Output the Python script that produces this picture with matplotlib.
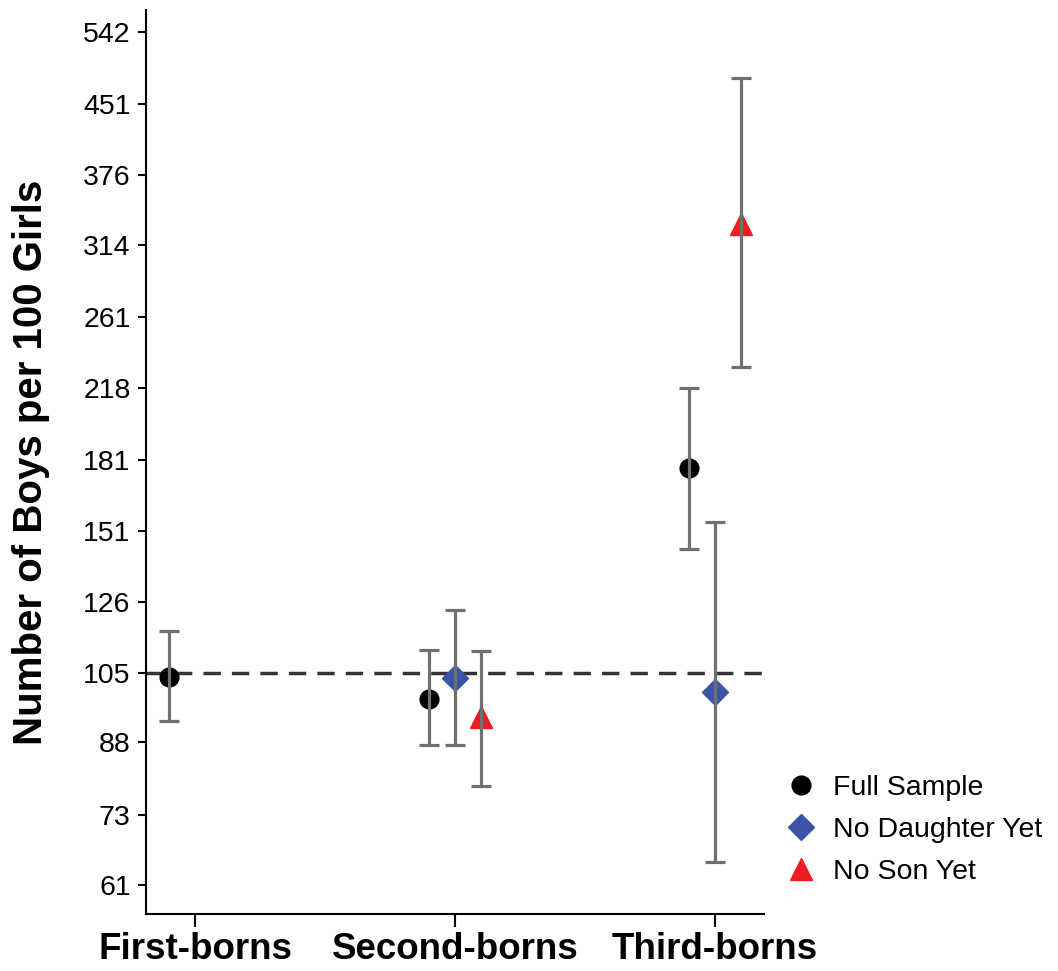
import matplotlib.pyplot as plt
import numpy as np

plt.rcParams['font.family'] = ['Liberation Sans', 'DejaVu Sans']

categories = ['First-borns', 'Second-borns', 'Third-borns']
y_ticks = [61, 73, 88, 105, 126, 151, 181, 218, 261, 314, 376, 451, 542]

# Full Sample
full_val = np.array([104.0, 98.3, 177.3])
full_lo = np.array([92.9, 87.2, 144.1])
full_hi = np.array([116.8, 111.2, 217.7])

# No Daughter Yet (second and third births only)
nodau_val = np.array([103.6, 99.9])
nodau_lo = np.array([87.2, 64.6])
nodau_hi = np.array([123.4, 154.4])

# No Son Yet (second and third births only)
noson_val = np.array([93.8, 331.5])
noson_lo = np.array([78.5, 229.9])
noson_hi = np.array([111.0, 481.7])

natural_ratio = 105

x = np.arange(1, len(categories) + 1)
off = 0.1
bar_color = '#707070'

fig = plt.figure(figsize=(10.58, 9.71), dpi=100)
ax = fig.add_axes([0.138, 0.0587, 0.584, 0.931])
ax.set_yscale('log')

ax.axhline(natural_ratio, color='#333333', lw=2.5, ls=(0, (5, 3.2)), zorder=1)

h1, = ax.plot(x - off, full_val, 'o', color='black', ms=13.5, ls='none', zorder=3, label='Full Sample')
h2, = ax.plot(x[1:], nodau_val, 'D', color='#3B54A5', ms=13, ls='none', zorder=3, label='No Daughter Yet')
h3, = ax.plot(x[1:] + off, noson_val, '^', color='#ED1C24', ms=16, ls='none', zorder=3, label='No Son Yet')

ax.errorbar(x - off, full_val, yerr=[full_val - full_lo, full_hi - full_val], fmt='none',
            ecolor=bar_color, elinewidth=2.3, capsize=7, capthick=2.3, zorder=4)
ax.errorbar(x[1:], nodau_val, yerr=[nodau_val - nodau_lo, nodau_hi - nodau_val], fmt='none',
            ecolor=bar_color, elinewidth=2.3, capsize=7, capthick=2.3, zorder=4)
ax.errorbar(x[1:] + off, noson_val, yerr=[noson_val - noson_lo, noson_hi - noson_val], fmt='none',
            ecolor=bar_color, elinewidth=2.3, capsize=7, capthick=2.3, zorder=4)

ax.set_xlim(0.8115, 3.188)
ax.set_ylim(56.6, 573.5)
ax.set_xticks(x)
ax.set_xticklabels(categories, fontsize=26.5, fontweight='bold')
ax.set_yticks(y_ticks)
ax.set_yticklabels([str(t) for t in y_ticks], fontsize=20.5)
ax.yaxis.set_minor_locator(plt.NullLocator())
ax.tick_params(axis='y', length=6, width=1.5, pad=5)
ax.tick_params(axis='x', length=9, width=1.5, pad=4)
ax.spines['top'].set_visible(False)
ax.spines['right'].set_visible(False)
ax.spines['left'].set_linewidth(1.5)
ax.spines['bottom'].set_linewidth(1.5)

ax.set_ylabel('Number of Boys per 100 Girls', fontsize=29, fontweight='bold', labelpad=24)

fig.legend(handles=[h1, h2, h3], loc='upper left', bbox_to_anchor=(0.744, 0.2018),
           frameon=False, fontsize=20.5, handlelength=1.0, handletextpad=0.6,
           labelspacing=0.56, borderpad=0, borderaxespad=0)

fig.savefig('out.png', dpi=100)
